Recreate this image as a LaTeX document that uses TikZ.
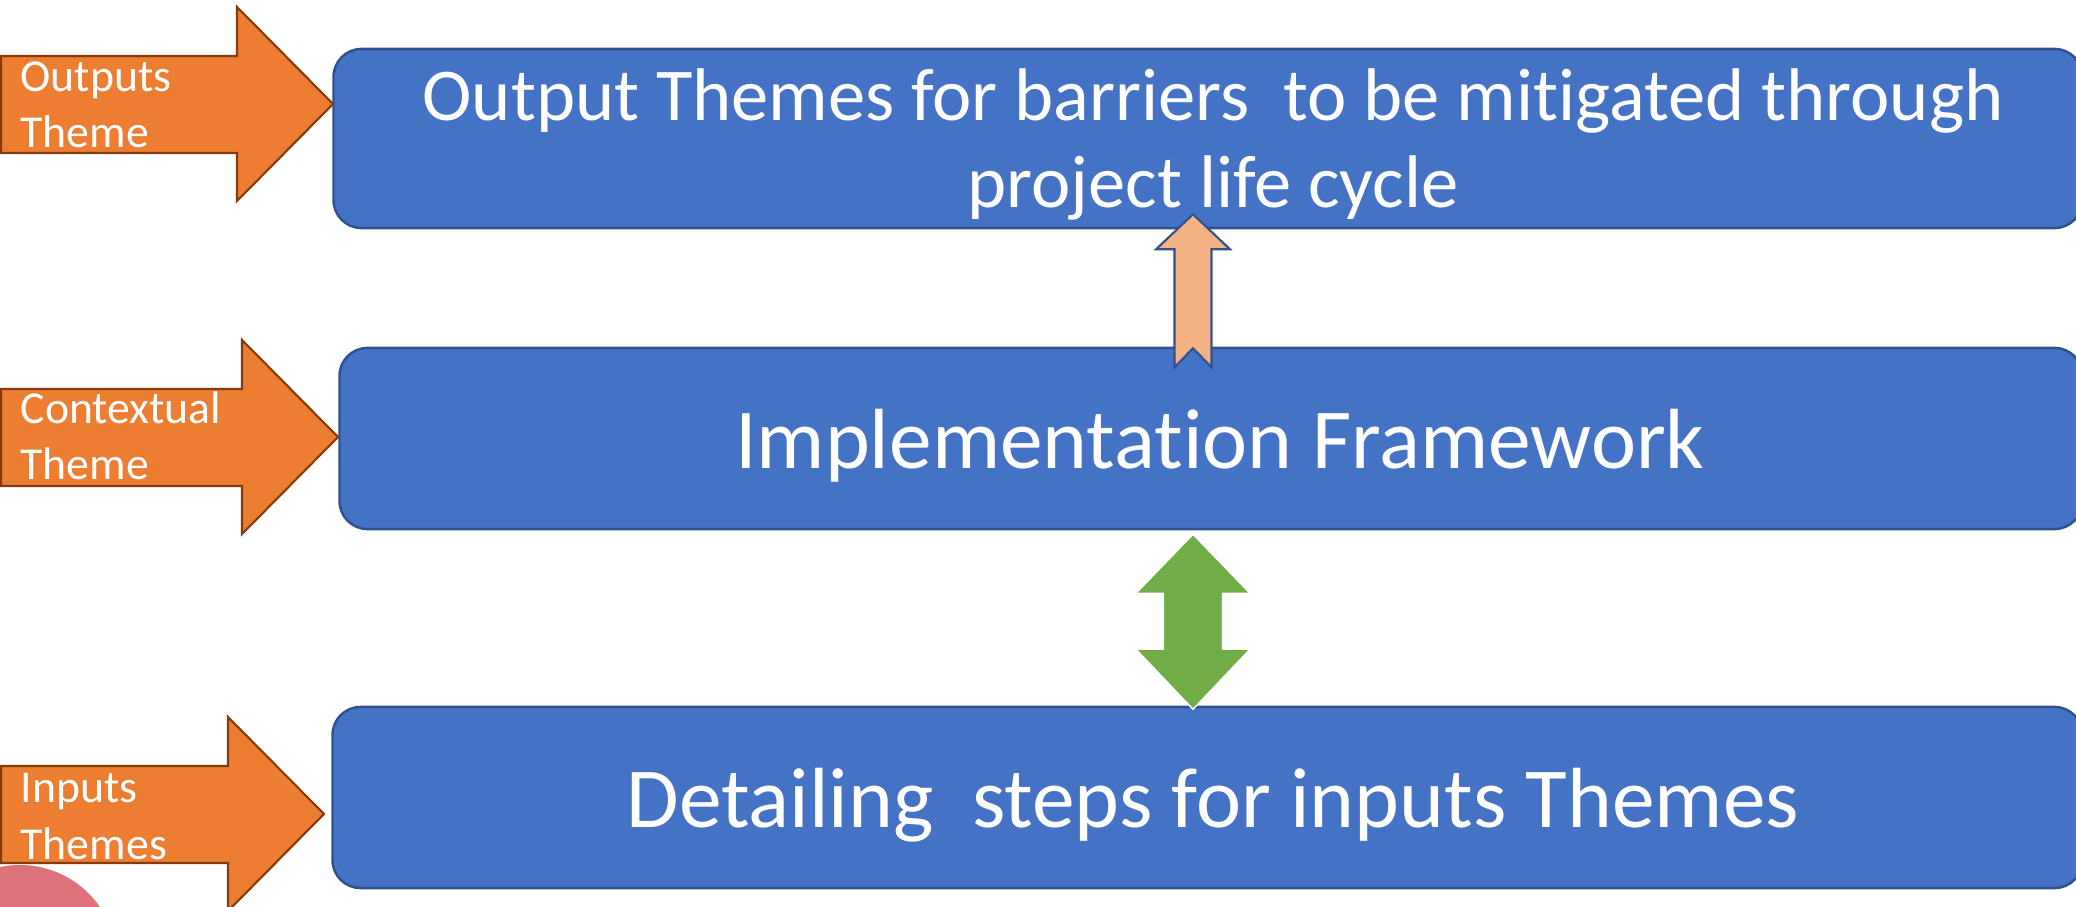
\documentclass[tikz,border=0pt]{standalone}
\usepackage{fontspec}
\setmainfont{Carlito}[Ligatures=NoCommon]
\usepackage{xcolor}
\usepackage{tikz}
\usetikzlibrary{positioning,calc}
\definecolor{boxblue}{RGB}{68,114,196}
\definecolor{boxline}{RGB}{47,82,143}
\definecolor{themeorange}{RGB}{237,125,49}
\definecolor{themeline}{RGB}{132,60,12}
\definecolor{uppeach}{RGB}{244,177,131}
\definecolor{linkgreen}{RGB}{112,173,71}
\definecolor{blobred}{RGB}{221,114,122}

\begin{document}
\begin{tikzpicture}[
    x=0.01cm, y=-0.01cm,
    box/.style={draw=boxline, fill=boxblue, line width=0.7pt, rounded corners=0.28cm, minimum height=1.8cm, inner sep=0pt},
    boxtext/.style={anchor=base, align=center, text=white, inner sep=0pt},
    themearrow/.style={draw=themeline, fill=themeorange, line width=0.6pt, line join=miter},
    lbl/.style={anchor=base west, align=left, text=white, inner sep=0pt, font=\fontsize{13}{16.2}\selectfont}
]
\clip (0,0) rectangle (2076,907);

% Background blob
\fill[blobred] (20,962) circle (97);

% Main boxes
\node[box, minimum width=17.48cm, minimum height=1.79cm] (outbox) at (1208,138.5) {};
\node[box, minimum width=17.42cm, minimum height=1.81cm] (implbox) at (1211,438.5) {};
\node[box, minimum width=17.49cm, minimum height=1.81cm] (stepbox) at (1207.5,797.5) {};

\node[boxtext, font=\fontsize{21.2}{25}\selectfont] (outtext) at (1213,208) {Output Themes for barriers~ to be mitigated through\\project life cycle};
\node[boxtext, font=\fontsize{24.3}{29}\selectfont] (impltext) at (1220,469) {Implementation Framework};
\node[boxtext, font=\fontsize{24.3}{29}\selectfont] (steptext) at (1213,827) {Detailing~ steps for inputs Themes};

% Theme arrows
\coordinate (outtip) at (333,104);
\coordinate (ctxtip) at (338,437);
\coordinate (intip) at (324,814);

\draw[themearrow] (outtip) -- ++(-96,-97) -- ++(0,49) -- ++(-236,0) -- ++(0,97) -- ++(236,0) -- ++(0,48) -- cycle;
\draw[themearrow] (ctxtip) -- ++(-96,-97) -- ++(0,49) -- ++(-241,0) -- ++(0,97) -- ++(241,0) -- ++(0,48) -- cycle;
\draw[themearrow] (intip) -- ++(-96,-97) -- ++(0,49) -- ++(-227,0) -- ++(0,97) -- ++(227,0) -- ++(0,48) -- cycle;

\node[lbl] (outlbl) at (20,148) {Outputs\\Theme};
\node[lbl] (ctxlbl) at (20,480) {Contextual\\Theme};
\node[lbl] (inlbl) at (20,859) {Inputs\\Themes};

% Framework to outputs
\coordinate (uptip) at ($(outbox.south)+(-15,-15)$);
\draw[draw=boxline, fill=uppeach, line width=0.6pt] (uptip) -- ++(37,35) -- ++(-18.5,0) -- ++(0,118) -- ++(-18.5,-19) -- ++(-18.5,19) -- ++(0,-118) -- ++(-18.5,0) -- cycle;

% Steps <-> framework
\coordinate (linktip) at ($(implbox.south)+(-18,4)$);
\draw[draw=white, fill=linkgreen, line width=0.4pt] (linktip) -- ++(57,59) -- ++(-27.5,0) -- ++(0,56) -- ++(27.5,0) -- ++(-57,60) -- ++(-57,-60) -- ++(27.5,0) -- ++(0,-56) -- ++(-27.5,0) -- cycle;

\end{tikzpicture}
\end{document}
